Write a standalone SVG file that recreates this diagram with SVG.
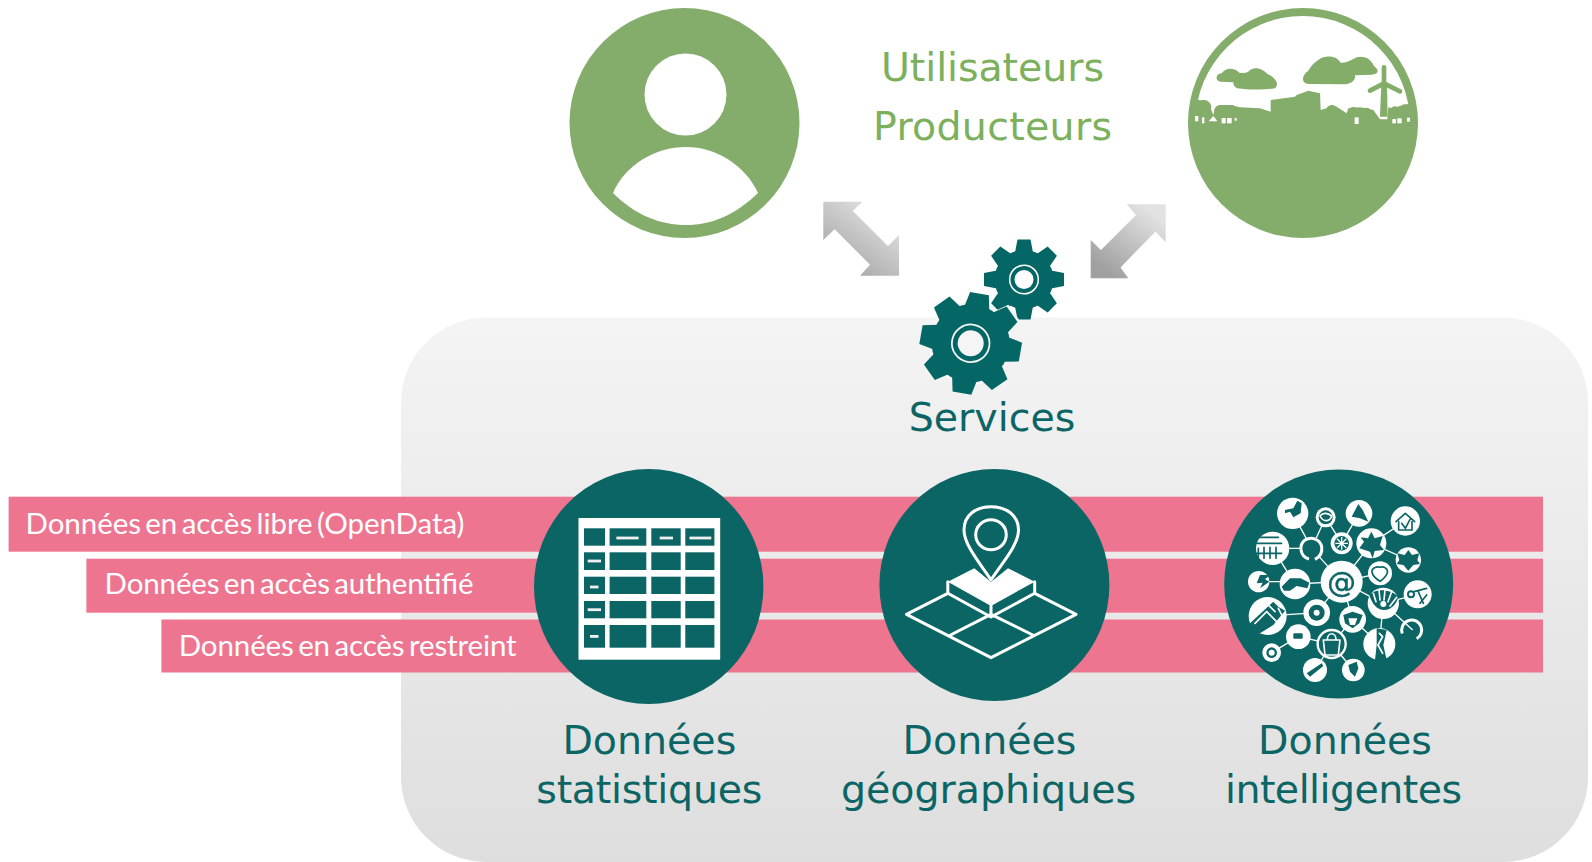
<svg xmlns="http://www.w3.org/2000/svg" xmlns:xlink="http://www.w3.org/1999/xlink" width="1592" height="862" viewBox="0 0 1592 862">
<style>
.g{fill:#84AD6B}
.t{fill:#0B6565}
.w{fill:#fff}
.bar{fill:#EE7590}
.big{font-family:"DejaVu Sans",Verdana,sans-serif;font-size:39.5px;text-anchor:middle}
.green{fill:#7DB05C}
.teal{fill:#0B6565}
.lab{font-family:Lato,"Liberation Sans",sans-serif;font-size:29.5px;fill:#fff;word-spacing:-3px}
.ln{fill:none;stroke:#fff;stroke-width:3;stroke-linejoin:round;stroke-linecap:round}
.net{stroke:#fff;stroke-width:4;fill:none}
.d{fill:#0B6565}
.dl{fill:none;stroke:#0B6565;stroke-width:5;stroke-linecap:round;stroke-linejoin:round}
.wl{fill:none;stroke:#fff;stroke-width:5;stroke-linecap:round;stroke-linejoin:round}
.dash{fill:#f0f0f0}
</style>
<defs>
<linearGradient id="panel" x1="0" y1="0" x2="0" y2="1"><stop offset="0" stop-color="#F4F4F4"/><stop offset="1" stop-color="#DEDEDE"/></linearGradient>
<linearGradient id="a1" x1="0.8" y1="0.1" x2="0.2" y2="0.9"><stop offset="0" stop-color="#E2E2E2"/><stop offset="1" stop-color="#A6A6A6"/></linearGradient>
<linearGradient id="a2" x1="0.8" y1="0.1" x2="0.2" y2="0.9"><stop offset="0" stop-color="#E2E2E2"/><stop offset="1" stop-color="#A0A0A0"/></linearGradient>
<path id="ts" d="M-9-27-6.500-40H6.500L9-27Z" fill="#056765"/>
<path id="tb" d="M-12.500-36-9.500-50.500H9.500L12.500-36Z" fill="#056765"/>
<clipPath id="inner"><circle cx="368" cy="370" r="322"/></clipPath>
<filter id="soft" x="-5%" y="-5%" width="110%" height="110%"><feGaussianBlur stdDeviation="0.55"/></filter>
</defs>

<rect id="panel-bg" x="401" y="317.500" width="1187" height="544.500" rx="85" ry="85" fill="url(#panel)"/>

<g id="access-bars">
<g id="bar-libre"><rect class="bar" x="8.600" y="496.700" width="1534.400" height="55"/><text class="lab" x="25.500" y="534" textLength="439" lengthAdjust="spacing">Données en accès libre (OpenData)</text></g>
<g id="bar-authentifie"><rect class="bar" x="86.400" y="558.700" width="1456.600" height="54"/><text class="lab" x="104.600" y="594" textLength="369" lengthAdjust="spacing">Données en accès authentifié</text></g>
<g id="bar-restreint"><rect class="bar" x="161.400" y="619.500" width="1381.600" height="53"/><text class="lab" x="178.700" y="656" textLength="338" lengthAdjust="spacing">Données en accès restreint</text></g>
</g>

<g id="node-utilisateurs">
<circle class="g" cx="684.500" cy="123" r="115"/>
<circle class="w" cx="685.500" cy="94.500" r="41"/>
<path class="w" d="M613 193C625 165 655 147 686 147C716 147 745 165 758 193C735 215 712 225 686 225C660 225 635 215 613 193Z"/>
</g>

<g id="node-labels">
<text class="big green" x="992.500" y="80.500" textLength="223">Utilisateurs</text>
<text class="big green" x="992.500" y="140" textLength="239">Producteurs</text>
</g>

<g id="node-producteurs">
<circle class="g" cx="1303" cy="123" r="115"/>
<g transform="translate(1180 0) scale(.33333)" filter="url(#soft)">
<path class="w" clip-path="url(#inner)" d="M0 0H740V312L685 312 660 318 640 325 625 322 622 358 600 358 580 330 560 325 540 322 505 325 500 340 470 320 455 315 440 325 422 330 420 280 385 272 350 285 345 290 272 300 272 335 240 325 180 322 150 315 120 315 105 325 100 345 90 320 75 302 55 300 0 300Z"/>
<g class="g" clip-path="url(#inner)"><circle cx="72" cy="322" r="22"/><circle cx="120" cy="332" r="17"/><circle cx="155" cy="330" r="15"/><circle cx="455" cy="332" r="17"/><circle cx="520" cy="336" r="15"/><circle cx="560" cy="336" r="13"/><circle cx="645" cy="332" r="13"/><circle cx="675" cy="328" r="15"/></g>
<path class="g" d="M122 245C105 243 105 222 125 220C135 205 160 200 178 218C195 220 205 218 210 210C228 198 250 208 262 222C285 232 300 252 285 265C250 270 205 270 172 265C160 260 160 250 160 247Z"/>
<path class="g" d="M385 252C365 250 362 228 385 212C395 195 410 180 430 172C455 165 475 175 482 188C500 190 515 180 530 172C555 165 575 180 582 198C600 212 595 222 575 224L525 226C528 240 515 252 495 253Z"/>
<path d="M612 250V202M612 250 570 272M612 250 660 274" stroke="#84AD6B" stroke-width="14" stroke-linecap="round" fill="none"/>
<path class="g" d="M604 250 600 350H623L621 250Z"/>
<g class="w"><rect x="45" y="348" width="10" height="16"/><rect x="66" y="352" width="7" height="18"/><path d="M86 364 100 348 112 364Z"/><rect x="125" y="354" width="12" height="16"/><rect x="141" y="354" width="14" height="16"/><rect x="164" y="354" width="6" height="8"/><rect x="524" y="352" width="12" height="20"/><rect x="637" y="357" width="11" height="13"/><rect x="652" y="355" width="13" height="15"/><rect x="681" y="353" width="9" height="12"/></g>
</g>
</g>

<g id="connectors">
<path id="arrow-left" fill="url(#a1)" d="M823.300 201.700H862.700L852.700 210.700 888 246 899 235V275.700H860L870 264.700 834.700 229.300 823.300 240Z"/>
<path id="arrow-right" fill="url(#a2)" d="M1165.700 204.300V242.300L1155.500 231.500 1120.500 267.500 1128.300 278.300H1090.700V240L1101 250 1136 215 1126.700 204.300Z"/>
</g>

<g id="node-services">
<g transform="translate(1024 279.500)">
<circle r="29.500" fill="#056765"/>
<use xlink:href="#ts" href="#ts"/><use xlink:href="#ts" href="#ts" transform="rotate(45)"/><use xlink:href="#ts" href="#ts" transform="rotate(90)"/><use xlink:href="#ts" href="#ts" transform="rotate(135)"/><use xlink:href="#ts" href="#ts" transform="rotate(180)"/><use xlink:href="#ts" href="#ts" transform="rotate(225)"/><use xlink:href="#ts" href="#ts" transform="rotate(270)"/><use xlink:href="#ts" href="#ts" transform="rotate(315)"/>
<circle r="14.300" fill="none" stroke="#fff" stroke-width="1.500"/><circle r="9.500" fill="#fff"/>
</g>
<g transform="translate(970.700 343.300) rotate(10)">
<circle r="42" fill="#f8f8f8"/>
<path d="M-13-36-10-53H10L13-36Z" fill="#f8f8f8" transform="rotate(45)"/>
<circle r="39" fill="#056765"/>
<use xlink:href="#tb" href="#tb"/><use xlink:href="#tb" href="#tb" transform="rotate(45)"/><use xlink:href="#tb" href="#tb" transform="rotate(90)"/><use xlink:href="#tb" href="#tb" transform="rotate(135)"/><use xlink:href="#tb" href="#tb" transform="rotate(180)"/><use xlink:href="#tb" href="#tb" transform="rotate(225)"/><use xlink:href="#tb" href="#tb" transform="rotate(270)"/><use xlink:href="#tb" href="#tb" transform="rotate(315)"/>
<circle r="18.800" fill="none" stroke="#f5f5f5" stroke-width="1.800"/><circle r="13" fill="#f5f5f5"/>
</g>
<text class="big teal" x="992" y="430.500">Services</text>
</g>

<g id="node-statistiques">
<ellipse class="t" cx="648.700" cy="586.500" rx="114.700" ry="117.500"/>
<rect class="w" x="578.500" y="518" width="141.700" height="141.700"/>
<g class="d">
<rect x="584" y="528.300" width="21" height="17.400"/><rect x="609.600" y="528.300" width="36.700" height="17.400"/><rect x="651.300" y="528.300" width="29.400" height="17.400"/><rect x="685.300" y="528.300" width="29.100" height="17.400"/>
<rect x="584" y="552.300" width="21" height="17.700"/><rect x="609.600" y="552.300" width="36.700" height="17.700"/><rect x="651.300" y="552.300" width="29.400" height="17.700"/><rect x="685.300" y="552.300" width="29.100" height="17.700"/>
<rect x="584" y="576.700" width="21" height="17.300"/><rect x="609.600" y="576.700" width="36.700" height="17.300"/><rect x="651.300" y="576.700" width="29.400" height="17.300"/><rect x="685.300" y="576.700" width="29.100" height="17.300"/>
<rect x="584" y="601" width="21" height="17.300"/><rect x="609.600" y="601" width="36.700" height="17.300"/><rect x="651.300" y="601" width="29.400" height="17.300"/><rect x="685.300" y="601" width="29.100" height="17.300"/>
<rect x="584" y="625" width="21" height="22.700"/><rect x="609.600" y="625" width="36.700" height="22.700"/><rect x="651.300" y="625" width="29.400" height="22.700"/><rect x="685.300" y="625" width="29.100" height="22.700"/>
</g>
<g class="dash">
<rect x="616.400" y="536.600" width="22.200" height="2.800"/><rect x="659.700" y="536.600" width="13.300" height="2.800"/><rect x="689.500" y="536.600" width="21.800" height="2.800"/>
<rect x="587.700" y="559.600" width="13.300" height="2.800"/><rect x="590" y="585.600" width="8.500" height="2.800"/><rect x="587.700" y="608.300" width="13.300" height="2.800"/><rect x="590" y="635" width="8.500" height="2.800"/>
</g>
<text class="big teal" x="649.300" y="754">Données</text>
<text class="big teal" x="649.300" y="803" textLength="226">statistiques</text>
</g>

<g id="node-geographiques">
<ellipse class="t" cx="994.400" cy="585" rx="115" ry="116"/>
<path class="w" d="M974.300 568.300 947.800 581.700 991 606 1034.700 581.700 1008 568.300 991 582Z"/>
<path class="ln" d="M991 580C980 563 964 545 964 530 964 515 976 506.700 991 506.700 1006 506.700 1018.500 515 1018.500 530 1018.500 545 1002 563 991 580Z"/>
<ellipse class="ln" cx="991" cy="534.700" rx="15.300" ry="15"/>
<path class="ln" d="M947.800 581.700V593.300L991 617 1034.700 593.300V581.700M991 606V617M947.800 593.300 906.500 614.300 991 657.700 1076 614.300 1034.700 593.300M950.500 635 991 614.300 1032.800 635"/>
<text class="big teal" x="989.500" y="754">Données</text>
<text class="big teal" x="988.500" y="803">géographiques</text>
</g>

<g id="node-intelligentes">
<circle class="t" cx="1338.700" cy="584" r="114.500"/>
<g transform="translate(1210 460) scale(.33333)" filter="url(#soft)">
<path class="net" d="M248 160 305 265 347 172M347 172 395 250M447 160 395 250M395 365 305 265M188 265H305M188 265 255 372 395 365M145 365H255M395 365 484 250 586 183M484 250 595 300M395 365 510 340M395 365 520 430 623 403M520 430 608 510M520 430 508 552M395 365 320 458 173 468M395 365 428 478 365 552 265 530 185 578M428 478 508 552M365 552 315 630M365 552 430 630"/>
<g class="w">
<circle cx="248" cy="160" r="47"/><circle cx="347" cy="172" r="30"/><circle cx="447" cy="160" r="40"/><circle cx="586" cy="183" r="44"/><circle cx="188" cy="265" r="50"/><circle cx="395" cy="250" r="33"/><circle cx="484" cy="250" r="45"/><circle cx="595" cy="300" r="38"/><circle cx="146" cy="365" r="32"/><circle cx="255" cy="372" r="46"/><circle cx="395" cy="365" r="63"/><circle cx="510" cy="340" r="36"/><circle cx="623" cy="403" r="42"/><circle cx="173" cy="468" r="57"/><circle cx="320" cy="458" r="40"/><circle cx="428" cy="478" r="40"/><circle cx="265" cy="530" r="37"/><circle cx="508" cy="552" r="48"/><circle cx="185" cy="578" r="28"/><circle cx="315" cy="630" r="36"/><circle cx="430" cy="630" r="34"/>
</g>
<!-- open rings -->
<circle cx="305" cy="265" r="33" class="t"/>
<path d="M297 297C270 290 265 255 285 240 305 228 330 238 335 260 338 278 330 290 315 298" fill="none" stroke="#fff" stroke-width="9"/>
<circle cx="605" cy="510" r="30" fill="none" stroke="#fff" stroke-width="9" stroke-dasharray="135 60" transform="rotate(-200 605 510)"/>
<circle cx="365" cy="552" r="42" fill="#0B6565" stroke="#fff" stroke-width="7"/>
<path class="wl" d="M340 540H390L385 585H345ZM352 540C352 515 378 515 378 540" stroke-width="4"/>
<!-- hand -->
<circle cx="520" cy="430" r="47" class="w"/>
<path class="d" d="M478 405C495 385 540 385 565 410C560 430 545 450 522 450 500 450 485 430 478 405Z"/>
<path class="wl" d="M490 400 498 425M507 390 510 420M525 388 522 420M545 395 534 425M560 412 540 438" stroke-width="8"/>
<circle cx="520" cy="432" r="9" class="w"/>
<!-- glyphs in teal -->
<path class="d" d="M225 150 250 145 262 122 275 130 272 160 250 172 240 155 225 160Z"/>
<circle cx="347" cy="172" r="21" class="d"/>
<path class="wl" d="M330 168C340 155 355 160 365 168 360 185 340 188 330 168Z" stroke-width="4"/>
<path class="d" d="M425 170 445 132 458 150 475 185 450 175Z"/>
<path class="dl" d="M558 185 586 160 614 185M566 185V210H606V185M575 190 586 205 600 178"/>
<path class="dl" d="M140 232H205M140 250H215M145 265V295M162 262V295M180 262V295M198 262V295M140 280H215" stroke-width="4"/>
<path class="d" d="M484 215 494 235 518 228 510 255 522 270 494 273 488 295 480 275 448 265 462 245 452 232 474 235Z"/>
<path class="d" d="M595 270 606 285 628 280 622 300 630 312 610 315 595 332 580 315 560 312 568 300 562 280 584 285Z"/>
<path class="d" d="M150 345 180 345 165 358 178 365 150 385 158 368 140 370Z"/>
<path class="d" d="M215 380 240 355H272L298 368 292 385 260 378 240 392 222 392Z"/>
<path class="dl" d="M510 322C520 318 535 325 532 338 528 352 515 360 510 364 500 358 488 348 486 336 484 325 500 318 510 322Z" stroke-width="4"/>
<circle cx="603" cy="403" r="12" class="d"/><circle cx="603" cy="403" r="6" class="w"/>
<path class="dl" d="M612 395 650 385M625 395 640 430M650 405 630 430" stroke-width="5"/>
<path class="d" d="M120 490 190 425 205 440 225 452 190 495 150 520 125 515Z"/>
<path class="wl" d="M135 490 170 455 205 490" stroke-width="8"/>
<path class="wl" d="M170 430 195 455M205 445 215 465" stroke-width="7"/>
<circle cx="320" cy="458" r="24" class="d"/><circle cx="320" cy="458" r="9" class="w"/>
<path class="d" d="M400 465 428 455 458 465 448 490 428 505 405 490Z"/><path class="w" d="M415 475H442L435 495H420Z"/>
<rect x="250" y="520" width="28" height="16" rx="3" class="d"/>
<path class="d" d="M500 505 530 510 520 555 530 600 495 600 500 555Z"/>
<path class="wl" d="M508 520 518 530 504 555 518 580"/>
<circle cx="185" cy="578" r="16" class="d"/><circle cx="185" cy="578" r="9" class="w"/>
<path class="d" d="M290 640 335 610 340 618 300 650Z"/>
<path class="d" d="M415 615 440 605 445 625 435 650 420 635Z"/>
<circle cx="395" cy="250" r="22" class="d"/>
<path fill="none" stroke="#fff" stroke-width="4" d="M376 250H414M395 231V269M381 236 409 264M409 236 381 264"/>
<text x="395" y="395" font-family="'DejaVu Sans',sans-serif" font-size="86" fill="#0B6565" text-anchor="middle" stroke="#0B6565" stroke-width="1.500">@</text>
</g>
<text class="big teal" x="1345" y="754">Données</text>
<text class="big teal" x="1343.500" y="803" textLength="237">intelligentes</text>
</g>
</svg>
